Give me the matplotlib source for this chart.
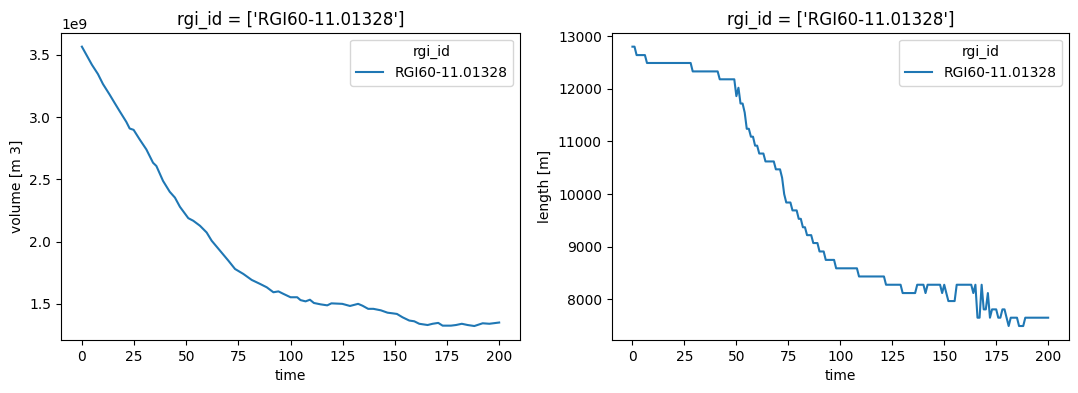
import matplotlib
matplotlib.use("Agg")
import matplotlib.pyplot as plt
import numpy as np

rgi_id = "RGI60-11.01328"
title = "rgi_id = ['RGI60-11.01328']"

# Volume (m3)
vol_time = [0, 4.8, 7.7, 10.1, 13.3, 15.7, 18.1, 21.3, 22.9, 24.8, 27.7, 30.9, 34.1, 35.7,
            38.9, 42.1, 44.6, 47.0, 51.0, 53.4, 56.6, 59.8, 62.2, 66.2, 70.2, 73.4, 77.4,
            81.4, 85.4, 88.6, 91.8, 94.2, 96.6, 100, 103.2, 104.8, 107.2, 109.3, 111.2,
            114.4, 117.6, 119.6, 124.8, 128.5, 132.4, 134.5, 137.2, 139.7, 143.3, 146.5,
            148.9, 151, 153.7, 156.9, 159.3, 161.7, 165.7, 168.1, 170.8, 172.9, 176.9,
            179.3, 182.1, 184.9, 188.1, 192.1, 195.3, 200]
vol_e9 = [3.565, 3.42, 3.345, 3.265, 3.18, 3.113, 3.047, 2.961, 2.908, 2.897, 2.82, 2.74,
          2.633, 2.607, 2.487, 2.40, 2.353, 2.279, 2.188, 2.167, 2.127, 2.073, 2.007, 1.927,
          1.847, 1.78, 1.74, 1.692, 1.66, 1.633, 1.593, 1.60, 1.58, 1.553, 1.553, 1.53,
          1.52, 1.533, 1.507, 1.496, 1.488, 1.504, 1.50, 1.483, 1.50, 1.485, 1.46, 1.46,
          1.448, 1.429, 1.424, 1.419, 1.392, 1.366, 1.36, 1.34, 1.33, 1.34, 1.347, 1.325,
          1.325, 1.33, 1.34, 1.33, 1.322, 1.344, 1.34, 1.35]

# Length (m)
len_time = [0, 1, 2, 6, 7, 28, 29, 41, 42, 49, 50, 51, 52, 53, 54, 55, 56, 57, 58, 59, 60,
            61, 63, 64, 68, 69, 71, 72, 73, 74, 76, 77, 79, 80, 81, 82, 83, 84, 86, 87, 89,
            90, 92, 93, 97, 98, 108, 109, 121, 122, 129, 130, 136, 137, 140, 141, 142,
            148, 149, 150, 151, 152, 155, 156, 163, 164, 165, 166, 167, 168, 169, 170,
            171, 172, 173, 175, 176, 177, 178, 179, 180, 181, 182, 185, 186, 188, 189, 200]
length_m = [12800, 12800, 12640, 12640, 12490, 12490, 12330, 12330, 12180, 12180, 11860,
            12020, 11720, 11720, 11550, 11240, 11240, 11090, 11090, 10920, 10920, 10770,
            10770, 10620, 10620, 10470, 10470, 10310, 10000, 9840, 9840, 9690, 9690, 9530,
            9530, 9370, 9370, 9220, 9220, 9070, 9070, 8910, 8910, 8750, 8750, 8590, 8590,
            8435, 8435, 8278, 8278, 8120, 8120, 8278, 8278, 8120, 8278, 8278, 8120, 8278,
            8120, 7968, 7968, 8278, 8278, 8120, 8278, 7652, 7652, 8278, 7810, 7810, 8120,
            7652, 7810, 7810, 7652, 7652, 7810, 7810, 7652, 7494, 7652, 7652, 7494, 7494,
            7652, 7652]

fig = plt.figure(figsize=(10.78, 3.93), dpi=100)
ax1 = fig.add_axes([0.0566, 0.1349, 0.4258, 0.7819])
ax2 = fig.add_axes([0.5674, 0.1349, 0.4242, 0.7819])

ax1.plot(vol_time, np.array(vol_e9) * 1e9, color="#1f77b4", label=rgi_id)
ax1.set_xlabel("time")
ax1.set_ylabel("volume [m 3]")
ax1.set_title(title)
ax1.legend(title="rgi_id", loc="upper right")

ax2.plot(len_time, length_m, color="#1f77b4", label=rgi_id)
ax2.set_xlabel("time")
ax2.set_ylabel("length [m]")
ax2.set_title(title)
ax2.legend(title="rgi_id", loc="upper right")

fig.savefig("out.png", dpi=100)
